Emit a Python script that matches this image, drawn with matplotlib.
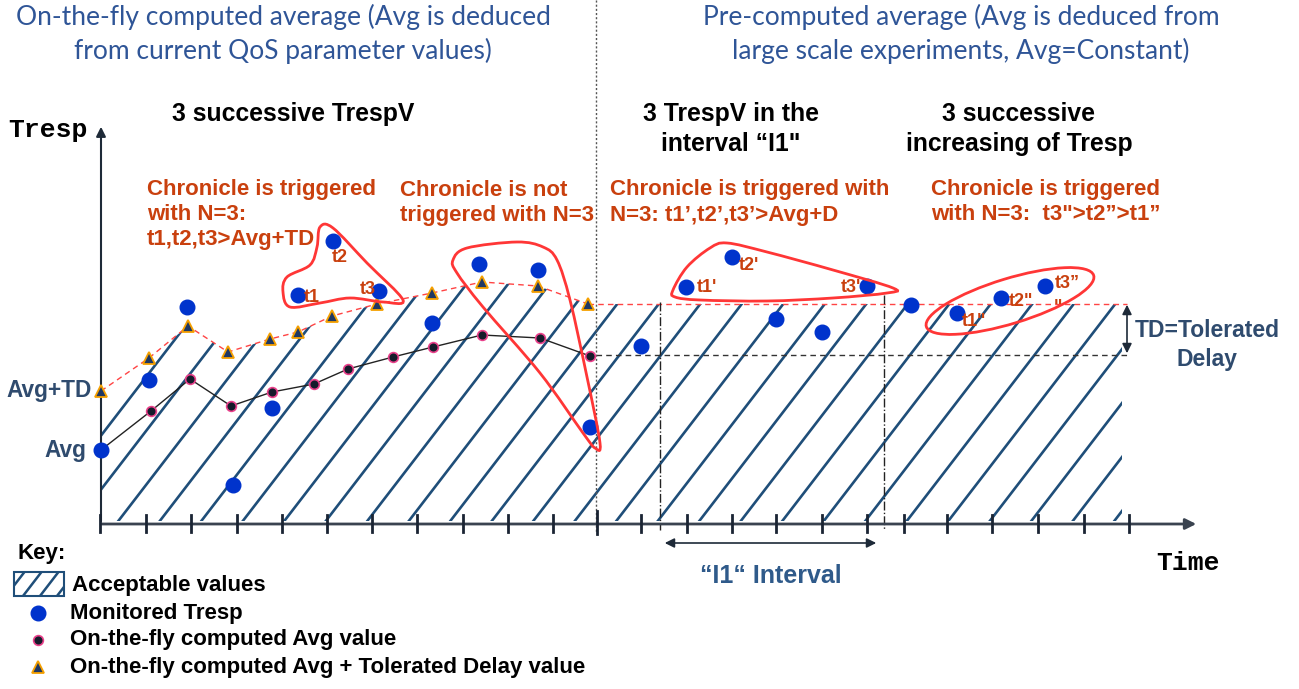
import numpy as np
import matplotlib
matplotlib.use("Agg")
import matplotlib.pyplot as plt
from matplotlib.path import Path
from matplotlib.patches import PathPatch, Polygon, Ellipse, Rectangle
from matplotlib.collections import LineCollection

# ---- data (time units, Tresp units) ----
tresp_time = [1, 49, 87, 133, 172, 198, 233, 279, 332, 379, 438, 490,
              541, 586, 632, 676, 722, 767, 811, 857, 901, 945]
tresp_vals = [74, 144, 217, 39, 116, 229, 283, 233, 201, 260, 254, 97,
              178, 237, 267, 205, 192, 238, 219, 211, 226, 238]

avg_time = [1, 51, 90, 131, 172, 214, 248, 293, 333, 382, 440, 490]
avg_vals = [74, 113, 145, 118, 132, 140, 155, 167, 177, 189, 186, 168]

avgtd_time = [1, 49, 88, 128, 170, 198, 232, 277, 332, 382, 438, 488]
avgtd_vals = [133, 166, 198, 172, 185, 192, 208, 220, 231, 242, 238, 220]

const_avg = 169
const_avgtd = 220
const_start, const_end = 496, 1027

tick_time = [0, 46, 91, 137, 182, 227, 272, 317, 363, 408, 453, 497,
             541, 587, 632, 676, 722, 767, 804, 847, 892, 938, 984, 1029]

NAVY = "#1F4E79"
RED_TXT = "#C9400E"
LASSO = "#FF3636"
BLUE_TITLE = "#2F5597"
SLATE = "#2F4B6E"
DOT = "#0033CC"

SANS = "Liberation Sans"
MONO = "Liberation Mono"


def P(x, y):
    # picture position -> data coordinates
    return (x - 100, 524 - y)


def smooth_closed(pts):
    pts = np.array([P(*p) for p in pts], dtype=float)
    n = len(pts)
    verts = [pts[0]]
    codes = [Path.MOVETO]
    for i in range(n):
        p0, p1, p2, p3 = pts[i - 1], pts[i], pts[(i + 1) % n], pts[(i + 2) % n]
        verts += [p1 + (p2 - p0) / 6, p2 - (p3 - p1) / 6, p2]
        codes += [Path.CURVE4] * 3
    return Path(verts, codes)


fig = plt.figure(figsize=(12.99, 6.89), dpi=100)
ax = fig.add_axes([0, 0, 1, 1])
ax.set_xlim(-100, 1199)
ax.set_ylim(-165, 524)
ax.axis("off")

# ---- hatched "acceptable values" region ----
clip = list(zip(avgtd_time, avgtd_vals))[::-1]
region = [(0, 3), (1022, 3), (1022, const_avgtd), (const_start, const_avgtd)] + clip + [(0, 133)]
clip_patch = Polygon(region, closed=True, fc="none", ec="none")
ax.add_patch(clip_patch)
slope = 1.3
segs = []
for x0 in np.arange(16 - 41.5 * 6, 1100, 41.5):
    segs.append([(x0, 0), (x0 + 300 / slope, 300)])
hatch = LineCollection(segs, colors=NAVY, linewidths=1.9, zorder=1)
ax.add_collection(hatch)
hatch.set_clip_path(clip_patch)

# ---- reference lines ----
ax.plot(avgtd_time, avgtd_vals, color="#FF4444", lw=1, ls=(0, (4, 3)), zorder=2)
ax.plot([avgtd_time[-1], const_end], [const_avgtd, const_avgtd], color="#FF4444", lw=1,
        ls=(0, (4, 3)), zorder=2)
ax.plot([const_start, const_end], [const_avg, const_avg], color="#333333", lw=1,
        ls=(0, (4, 3)), zorder=2)
ax.plot(avg_time, avg_vals, color="#222222", lw=1, zorder=2)

# separators
ax.plot(*zip(P(596, 0), P(596, 532)), color="#555555", lw=1, ls=(0, (1.5, 1.5)), zorder=2)
for xv, ytop in [(660, 302), (884, 295)]:
    ax.plot(*zip(P(xv, ytop), P(xv, 530)), color="#222222", lw=1, ls="-.", zorder=2)

# axes with arrows
ax.annotate("", xy=P(101, 124), xytext=P(101, 524),
            arrowprops=dict(arrowstyle="-|>", color="#1E2A38", lw=1.5, mutation_scale=14))
ax.annotate("", xy=P(1199, 524), xytext=P(99, 524),
            arrowprops=dict(arrowstyle="-|>", color="#3A4350", lw=2, mutation_scale=16))
for t in tick_time:
    lo, hi = (-10, 13) if t == 497 else (-8, 9)
    ax.plot([t, t], [lo, hi], color="#1A2433", lw=2, zorder=3)

# arrows for TD and I1 interval
ax.annotate("", xy=P(1127, 302), xytext=P(1127, 356),
            arrowprops=dict(arrowstyle="<|-|>", color="#1E2A38", lw=1.2, mutation_scale=14))
ax.annotate("", xy=P(662, 543), xytext=P(879, 543),
            arrowprops=dict(arrowstyle="<|-|>", color="#1E2A38", lw=1.2, mutation_scale=14))

# ---- markers ----
ax.plot(avgtd_time, avgtd_vals, ls="none", marker="^", ms=8, mfc="#1F3864",
        mec="#F5A000", mew=1.3, zorder=4)
ax.plot(avg_time, avg_vals, ls="none", marker="o", ms=7, mfc="#151B2B",
        mec="#E8408A", mew=1.2, zorder=4)
ax.plot(tresp_time, tresp_vals, ls="none", marker="o", ms=10.5, mfc=DOT,
        mec=DOT, zorder=5)

# ---- lassos ----
lasso1 = [(320, 227), (333, 228), (367, 263), (403, 300), (383, 302), (350, 298),
          (320, 303), (290, 307), (283, 292), (287, 277), (310, 265), (317, 247)]
lasso2 = [(453, 260), (467, 248), (517, 242), (543, 247), (557, 260), (570, 300),
          (587, 377), (600, 443), (595, 448), (583, 433), (540, 373), (483, 307),
          (457, 273)]
lasso3 = [(673, 290), (687, 267), (710, 248), (727, 243), (767, 252), (833, 270),
          (893, 288), (887, 293), (833, 298), (767, 301), (700, 300), (675, 297)]
for pts in (lasso1, lasso2, lasso3):
    ax.add_patch(PathPatch(smooth_closed(pts), fc="none", ec=LASSO, lw=2, zorder=6))
ax.add_patch(Ellipse(P(1010, 301), 175, 45, angle=17, fc="none", ec=LASSO, lw=2, zorder=6))

# ---- texts ----
ax.text(*P(283, 34), "On-the-fly computed average (Avg is deduced\nfrom current QoS parameter values)",
        ha="center", va="center", color=BLUE_TITLE, fontsize=19, family="Lato", linespacing=1.4)
ax.text(*P(961, 34), "Pre-computed average (Avg is deduced from\nlarge scale experiments, Avg=Constant)",
        ha="center", va="center", color=BLUE_TITLE, fontsize=19, family="Lato", linespacing=1.4)

hdr = dict(ha="center", va="center", color="black", fontsize=17.8, weight="bold",
           family=SANS, linespacing=1.3)
ax.text(*P(293, 114), "3 successive TrespV", **hdr)
ax.text(*P(731, 129), "3 TrespV in the\ninterval \u201cI1\"", **hdr)
ax.text(*P(1019, 129), "3 successive\nincreasing of Tresp", **hdr)

red = dict(ha="left", va="center", color=RED_TXT, fontsize=16, weight="bold",
           family=SANS)
ax.text(*P(147, 190), "Chronicle is triggered", **red)
ax.text(*P(147, 215), "with N=3:", **red)
ax.text(*P(147, 240), "t1,t2,t3>Avg+TD", **red)
ax.text(*P(400, 190), "Chronicle is not", **red)
ax.text(*P(400, 215), "triggered with N=3", **red)
ax.text(*P(610, 190), "Chronicle is triggered with", **red)
ax.text(*P(610, 215), "N=3: t1\u2019,t2\u2019,t3\u2019>Avg+D", **red)
ax.text(*P(931, 190), "Chronicle is triggered", **red)
ax.text(*P(931, 215), "with N=3:  t3\">t2\u201d>t1\u201d", **red)

small = dict(va="center", color=RED_TXT, fontsize=13, weight="bold", family=SANS, zorder=7)
ax.text(*P(304, 297), "t1", ha="left", **small)
ax.text(*P(340, 258), "t2", ha="center", **small)
ax.text(*P(376, 289), "t3", ha="right", **small)
ax.text(*P(697, 287), "t1'", ha="left", **small)
ax.text(*P(739, 265), "t2'", ha="left", **small)
ax.text(*P(861, 287), "t3'", ha="right", **small)
ax.text(*P(962, 322), "t1\"", ha="left", **small)
ax.text(*P(1009, 301), "t2\"", ha="left", **small)
ax.text(*P(1055, 283), "t3\u201d", ha="left", **small)
ax.text(*P(1058, 307), "\"", ha="center", **small)

ax.text(*P(92, 391), "Avg+TD", ha="right", va="center", color=SLATE, fontsize=16.3,
        weight="bold", family=SANS)
ax.text(*P(86, 450), "Avg", ha="right", va="center", color=SLATE, fontsize=16.3,
        weight="bold", family=SANS)
ax.text(*P(1207, 345), "TD=Tolerated\nDelay", ha="center", va="center", color=SLATE,
        fontsize=16.5, weight="bold", family=SANS, linespacing=1.3)
ax.text(*P(771, 576), "\u201cI1\u201c Interval", ha="center", va="center", color="#2F5A8A",
        fontsize=18, weight="bold", family=SANS)
ax.text(*P(8, 130), "Tresp", ha="left", va="center", color="black", fontsize=19,
        weight="bold", family=MONO)
ax.text(*P(1156, 563), "Time", ha="left", va="center", color="black", fontsize=19,
        weight="bold", family=MONO)

# ---- key ----
key = dict(ha="left", va="center", color="black", fontsize=16, weight="bold", family=SANS)
ax.text(*P(17, 553), "Key:", **key)
x0, y0 = P(14, 596)
box = Rectangle((x0, y0), 50, 24, fc="white", ec=NAVY, lw=1.5, zorder=3)
ax.add_patch(box)
kseg = [[(x0 + dx, y0), (x0 + dx + 24 / 1.3, y0 + 24)] for dx in (-8, 9, 26, 43)]
klines = LineCollection(kseg, colors=NAVY, linewidths=1.8, zorder=4)
ax.add_collection(klines)
klines.set_clip_path(box)
ax.text(*P(72, 585), "Acceptable values", **key)
ax.plot(*P(38, 613), marker="o", ms=10.5, color=DOT)
ax.text(*P(70, 613), "Monitored Tresp", **key)
ax.plot(*P(38, 640), marker="o", ms=7, mfc="#151B2B", mec="#E8408A", mew=1.2)
ax.text(*P(70, 640), "On-the-fly computed Avg value", **key)
ax.plot(*P(38, 667), marker="^", ms=8, mfc="#1F3864", mec="#F5A000", mew=1.3)
ax.text(*P(70, 667), "On-the-fly computed Avg + Tolerated Delay value", **key)

fig.savefig("out.png", dpi=100)
